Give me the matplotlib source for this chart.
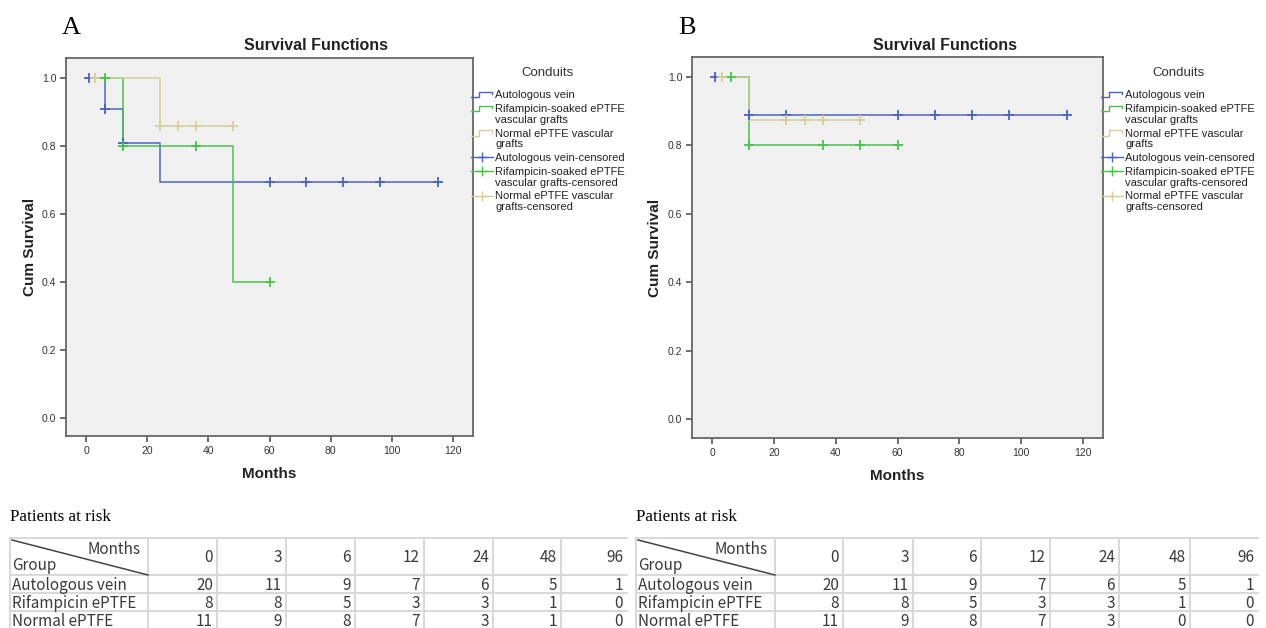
import matplotlib
matplotlib.use("Agg")
import matplotlib.pyplot as plt
from matplotlib.lines import Line2D
from matplotlib.legend_handler import HandlerBase
from matplotlib import font_manager as fm

# ---------------- data ----------------
groups = ["Autologous vein", "Rifampicin-soaked ePTFE\nvascular grafts", "Normal ePTFE vascular\ngrafts"]
censor_labels = ["Autologous vein-censored", "Rifampicin-soaked ePTFE\nvascular grafts-censored",
                 "Normal ePTFE vascular\ngrafts-censored"]

# Panel A (step curves: time, survival; censor times)
A_auto_t = [1, 6, 12, 24, 115]
A_auto_s = [1.0, 0.909, 0.808, 0.693, 0.693]
A_auto_c = [1, 6, 12, 60, 72, 84, 96, 115]
A_rif_t = [1, 12, 48, 60]
A_rif_s = [1.0, 0.8, 0.4, 0.4]
A_rif_c = [6, 12, 36, 60]
A_norm_t = [1, 24, 48]
A_norm_s = [1.0, 0.857, 0.857]
A_norm_c = [3, 24, 30, 36, 48]

# Panel B
B_auto_t = [1, 12, 115]
B_auto_s = [1.0, 0.889, 0.889]
B_auto_c = [1, 12, 24, 60, 72, 84, 96, 115]
B_rif_t = [1, 12, 60]
B_rif_s = [1.0, 0.8, 0.8]
B_rif_c = [6, 12, 36, 48, 60]
B_norm_t = [1, 12, 48]
B_norm_s = [1.0, 0.875, 0.875]
B_norm_c = [3, 24, 30, 36, 48]

# Patients at risk tables
risk_months = ["0", "3", "6", "12", "24", "48", "96"]
risk_groups = ["Autologous vein", "Rifampicin ePTFE", "Normal ePTFE"]
A_risk_auto = [20, 11, 9, 7, 6, 5, 1]
A_risk_rif = [8, 8, 5, 3, 3, 1, 0]
A_risk_norm = [11, 9, 8, 7, 3, 1, 0]
B_risk_auto = [20, 11, 9, 7, 6, 5, 1]
B_risk_rif = [8, 8, 5, 3, 3, 1, 0]
B_risk_norm = [11, 9, 8, 7, 3, 0, 0]

colors = ["#4a62c0", "#45c44a", "#d6cf98"]


def font_file(name, bold=False):
    best = None
    for f in fm.fontManager.ttflist:
        if f.name != name or "narrow" in f.fname.lower() or f.style != "normal":
            continue
        w = f.weight if isinstance(f.weight, int) else (700 if "bold" in str(f.weight) else 400)
        if (w >= 600) == bold:
            best = f.fname
            break
    return best


REG = font_file("Liberation Sans", False)
BOLD = font_file("Liberation Sans", True)


def fp(size, bold=False):
    path = BOLD if bold else REG
    if path:
        return fm.FontProperties(fname=path, size=size)
    return fm.FontProperties(family="DejaVu Sans", size=size, weight="bold" if bold else "normal")


W, H = 1266, 628
fig = plt.figure(figsize=(W / 100, H / 100), dpi=100)
fig.patch.set_facecolor("white")


def fx(px):
    return px / W


def fy(py):
    return 1 - py / H


class Proxy:
    def __init__(self, c, kind, shift):
        self.c = c
        self.kind = kind
        self.shift = shift


class ProxyHandler(HandlerBase):
    def create_artists(self, legend, h, xdescent, ydescent, width, height, fontsize, trans):
        x0, y0 = -xdescent, -ydescent + h.shift
        arts = []
        if h.kind == "step":
            xs = [x0, x0 + 0.35 * width, x0 + 0.35 * width, x0 + 0.95 * width, x0 + 0.95 * width]
            ys = [y0 + 0.15 * height, y0 + 0.15 * height, y0 + 0.85 * height, y0 + 0.85 * height,
                  y0 + 0.55 * height]
            ln = Line2D(xs, ys, color=h.c, lw=1.0)
            arts.append(ln)
        else:
            ym = y0 + 0.5 * height
            ln = Line2D([x0, x0 + width], [ym, ym], color=h.c, lw=1.0)
            mk = Line2D([x0 + 0.5 * width], [ym], color=h.c, marker="+", ms=7, mew=1.0, ls="none")
            arts += [ln, mk]
        for a in arts:
            a.set_transform(trans)
        return arts


def draw_panel(rect, curves, letter, letter_xy, title_x, legend_xy, ylabel_x):
    ax = fig.add_axes(rect)
    ax.set_facecolor("#f0f0f0")
    for (t, s, c), col in zip(curves, colors):
        ax.step(t, s, where="post", color=col, lw=1.2, alpha=0.9, zorder=3)
        cy = []
        for tc in c:
            val = s[0]
            for ti, si in zip(t, s):
                if ti <= tc:
                    val = si
            cy.append(val)
        ax.plot(c, cy, ls="none", marker="+", ms=7, mew=1.3, color=col, zorder=4)
    ax.set_xlim(-6.6, 126.6)
    ax.set_ylim(-0.054, 1.058)
    ax.set_xticks([0, 20, 40, 60, 80, 100, 120])
    ax.set_yticks([0.0, 0.2, 0.4, 0.6, 0.8, 1.0])
    ax.set_yticklabels(["0.0", "0.2", "0.4", "0.6", "0.8", "1.0"])
    for sp in ax.spines.values():
        sp.set_color("#666666")
        sp.set_linewidth(1.3)
    ax.tick_params(direction="out", length=4, width=1.2, color="#555555",
                   labelcolor="#333333", pad=3)
    for lab in ax.get_xticklabels() + ax.get_yticklabels():
        lab.set_fontproperties(fp(7.5))
    ax.set_xlabel("Months", fontproperties=fp(11, True), labelpad=8, color="#222222")
    fig.text(ylabel_x, rect[1] + rect[3] / 2, "Cum Survival", rotation=90, fontproperties=fp(11, True),
             ha="center", va="center", color="#222222")
    fig.text(title_x, fy(45), "Survival Functions", fontproperties=fp(11.5, True),
             ha="center", va="center", color="#222222")
    fig.text(letter_xy[0], letter_xy[1], letter, fontsize=19, family=["Liberation Serif", "DejaVu Serif"],
             ha="left", va="center")
    fig.text(legend_xy[0] + fx(77), fy(73), "Conduits", fontproperties=fp(9.5), ha="center", va="center",
             color="#333333")
    labels = groups + censor_labels
    handles = []
    for i, lab in enumerate(labels):
        kind = "step" if i < 3 else "cens"
        shift = 4.3 if "\n" in lab else 0.0
        handles.append(Proxy(colors[i % 3], kind, shift))
    leg = ax.legend(handles, labels, loc="upper left", bbox_to_anchor=(legend_xy[0], fy(90.5)),
                    bbox_transform=fig.transFigure, frameon=False,
                    handlelength=2.0, handletextpad=0.2,
                    labelspacing=0.33, borderaxespad=0, borderpad=0,
                    handler_map={Proxy: ProxyHandler()},
                    prop=fp(8))
    for tx in leg.get_texts():
        tx.set_color("#222222")
        tx.set_linespacing(1.1)
    return ax


draw_panel([fx(66), fy(436), fx(473 - 66), (436 - 58) / H],
           [(A_auto_t, A_auto_s, A_auto_c), (A_rif_t, A_rif_s, A_rif_c), (A_norm_t, A_norm_s, A_norm_c)],
           "A", (fx(62), fy(28)), fx(316), (fx(471), fy(64)), fx(30))
draw_panel([fx(692), fy(438), fx(1103 - 692), (438 - 57) / H],
           [(B_auto_t, B_auto_s, B_auto_c), (B_rif_t, B_rif_s, B_rif_c), (B_norm_t, B_norm_s, B_norm_c)],
           "B", (fx(678), fy(28)), fx(945), (fx(1101), fy(62)), fx(655))


def draw_table(col_edges, rows, title_x):
    tax = fig.add_axes([0, 0, 1, 1])
    tax.set_xlim(0, W)
    tax.set_ylim(H, 0)
    tax.axis("off")
    tfont = ["Noto Sans CJK SC", "DejaVu Sans"]
    fs = 11
    tc = "#3a3a3a"
    tax.text(title_x, 517, "Patients at risk", fontsize=12.3, family=["Liberation Serif", "DejaVu Serif"],
             ha="left", va="center")
    row_edges = [538, 575, 593, 611, 629]
    gc = "#d8d8d8"
    for y in row_edges:
        tax.plot([col_edges[0], col_edges[-1]], [y, y], color=gc, lw=1.4)
    for x in col_edges[:-1]:
        tax.plot([x, x], [row_edges[0], row_edges[-1]], color=gc, lw=1.4)
    tax.plot([col_edges[0] + 2, col_edges[1]], [row_edges[0] + 2, row_edges[1]], color="#444444", lw=1.1)
    tax.text(col_edges[1] - 7, 549, "Months", fontsize=fs, family=tfont, ha="right", va="center", color=tc)
    tax.text(col_edges[0] + 2, 566, "Group", fontsize=fs, family=tfont, ha="left", va="center", color=tc)
    for i, m in enumerate(risk_months):
        tax.text(col_edges[i + 2] - 4, 557, m, fontsize=fs, family=tfont, ha="right", va="center", color=tc)
    for r, (g, vals) in enumerate(zip(risk_groups, rows)):
        yc = (row_edges[r + 1] + row_edges[r + 2]) / 2 + 1
        tax.text(col_edges[0] + 2, yc, g, fontsize=fs, family=tfont, ha="left", va="center", color=tc)
        for i, v in enumerate(vals):
            tax.text(col_edges[i + 2] - 4, yc, str(v), fontsize=fs, family=tfont, ha="right", va="center",
                     color=tc)


draw_table([10, 148, 217, 286, 355, 424, 493, 561, 627], [A_risk_auto, A_risk_rif, A_risk_norm], 10)
draw_table([636, 775, 843, 913, 981, 1050, 1119, 1190, 1258], [B_risk_auto, B_risk_rif, B_risk_norm], 636)

fig.savefig("out.png", dpi=100, facecolor="white")
